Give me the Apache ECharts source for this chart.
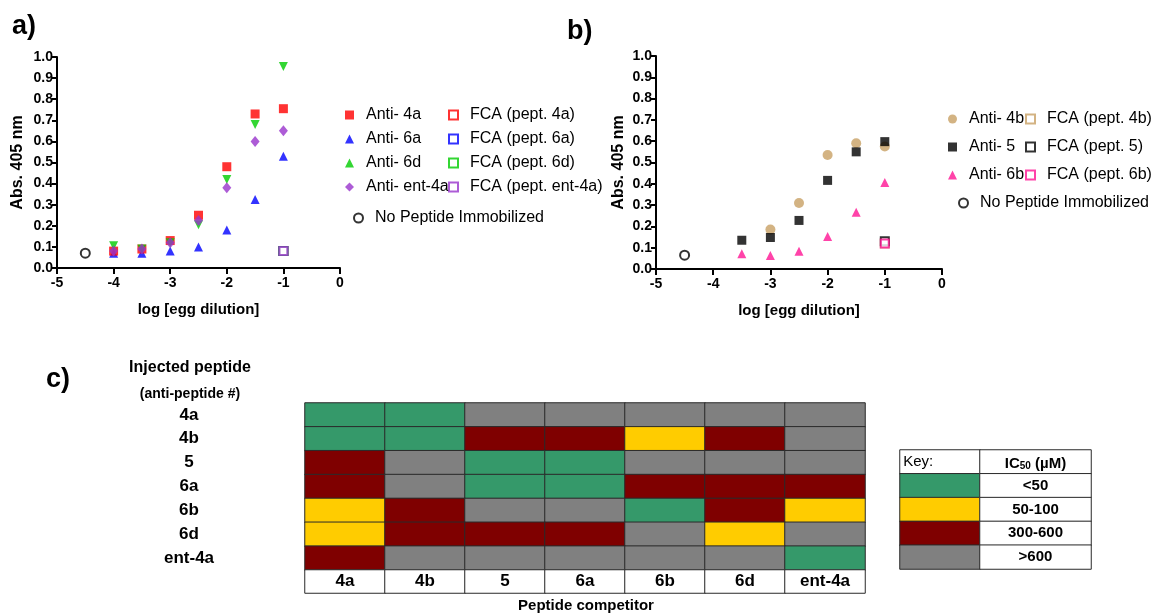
<!DOCTYPE html>
<html><head><meta charset="utf-8">
<script src="https://cdn.jsdelivr.net/npm/echarts@6/dist/echarts.min.js"></script>
<style>html,body{margin:0;padding:0;background:#fff}#c{width:1154px;height:613px}</style>
</head><body><div id="c"></div>
<script>
// ---------- Panel a data ----------
const dilA = [-4, -3.5, -3, -2.5, -2, -1.5, -1];
const anti4a = [0.08, 0.09, 0.13, 0.25, 0.48, 0.73, 0.755];
const anti6a = [0.07, 0.07, 0.08, 0.10, 0.18, 0.325, 0.53];
const anti6d = [0.105, 0.09, 0.12, 0.205, 0.42, 0.68, 0.955];
const antiEnt4a = [0.08, 0.09, 0.12, 0.225, 0.38, 0.60, 0.65];
const fcaX = -1;
const fcaA = [0.08, 0.08, 0.08, 0.08];      // 4a, 6a, 6d, ent-4a
const noPeptideA = [-4.5, 0.07];

// ---------- Panel b data ----------
const dil4b = [-3, -2.5, -2, -1.5, -1];
const anti4b = [0.185, 0.31, 0.535, 0.59, 0.575];
const dilB = [-3.5, -3, -2.5, -2, -1.5, -1];
const anti5 = [0.135, 0.148, 0.228, 0.416, 0.55, 0.598];
const anti6b = [0.072, 0.063, 0.083, 0.153, 0.267, 0.406];
const fcaB = [0.12, 0.13, 0.12];            // 4b, 5, 6b
const noPeptideB = [-4.5, 0.065];

// ---------- Panel c data ----------
const injected = ['4a', '4b', '5', '6a', '6b', '6d', 'ent-4a'];
const competitors = ['4a', '4b', '5', '6a', '6b', '6d', 'ent-4a'];
const ic50Classes = ['<50', '50-100', '300-600', '>600'];
// class index per [injected row][competitor column]
const ic50Matrix = [
  [0, 0, 3, 3, 3, 3, 3],
  [0, 0, 2, 2, 1, 2, 3],
  [2, 3, 0, 0, 3, 3, 3],
  [2, 3, 0, 0, 2, 2, 2],
  [1, 2, 3, 3, 0, 2, 1],
  [1, 2, 2, 2, 3, 1, 3],
  [2, 3, 3, 3, 3, 3, 0]
];
const classColors = ['#35996a', '#ffcc00', '#7f0000', '#808080'];

const FONT = 'Liberation Sans, Arial, sans-serif';
const chart = echarts.init(document.getElementById('c'));

function pts(xs, ys) { return xs.map((x, i) => [x, ys[i]]); }

function valueAxesX(gi) {
  return {
    gridIndex: gi, type: 'value', min: -5, max: 0, interval: 1,
    axisLine: { show: true, onZero: false, lineStyle: { color: '#000', width: 2 } },
    axisTick: { show: true, length: 6, lineStyle: { color: '#000', width: 2 } },
    axisLabel: { fontFamily: FONT, fontWeight: 'bold', fontSize: 14, color: '#000', margin: 8 },
    splitLine: { show: false },
    name: 'log [egg dilution]', nameLocation: 'middle', nameGap: 34,
    nameTextStyle: { fontFamily: FONT, fontWeight: 'bold', fontSize: 15, color: '#000' }
  };
}
function valueAxesY(gi, gap) {
  return {
    gridIndex: gi, type: 'value', min: 0, max: 1, interval: 0.1,
    axisLine: { show: true, onZero: false, lineStyle: { color: '#000', width: 2 } },
    axisTick: { show: true, length: 5, lineStyle: { color: '#000', width: 2 } },
    axisLabel: { fontFamily: FONT, fontWeight: 'bold', fontSize: 14, color: '#000', margin: 4,
      formatter: v => v.toFixed(1) },
    splitLine: { show: false },
    name: 'Abs. 405 nm', nameLocation: 'middle', nameGap: gap, nameRotate: 90,
    nameTextStyle: { fontFamily: FONT, fontWeight: 'bold', fontSize: 16, color: '#000' }
  };
}

function sc(name, gi, data, symbol, color, opts = {}) {
  return Object.assign({
    type: 'scatter', name, xAxisIndex: gi, yAxisIndex: gi, data, symbol,
    symbolSize: 9, itemStyle: { color }, emphasis: { disabled: true }, z: 3
  }, opts);
}
function openSq(name, gi, y, color) {
  return sc(name, gi, [[fcaX, y]], 'rect', '#fff', {
    symbolSize: 8, itemStyle: { color: '#fff', borderColor: color, borderWidth: 2 }
  });
}
function openCircle(name, gi, p) {
  return sc(name, gi, [p], 'circle', '#fff', {
    symbolSize: 9, itemStyle: { color: '#fff', borderColor: '#000', borderWidth: 2 }
  });
}

const colA = { a4: '#ff0000', a6: '#0000ff', d6: '#00cc00', ent: '#9933cc' };
const colB = { b4: '#c8a064', f5: '#000000', b6: '#ff1493' };

// heatmap data
const heatData = [];
ic50Matrix.forEach((row, r) => row.forEach((cls, c) => {
  heatData.push({ value: [c, r, cls], itemStyle: { color: classColors[cls] } });
}));
const labelRowData = competitors.map((c, i) => ({ value: [i, 0, i], itemStyle: { color: '#fff' } }));
const keyRows = ['hdr'].concat(ic50Classes);
const keySwatchData = keyRows.map((k, i) => ({
  value: [0, i, i], itemStyle: { color: i === 0 ? '#fff' : classColors[i - 1] }
}));
const keyTextData = keyRows.map((k, i) => ({ value: [0, i, i], itemStyle: { color: '#fff' } }));

const cellBorder = { borderColor: '#2a2a2a', borderWidth: 1 };
const legendText = { fontFamily: FONT, fontSize: 16, color: '#000', lineHeight: 16, padding: [0, 0, 0, 7] };

function hiddenCat(gi, data, inverse) {
  return {
    gridIndex: gi, type: 'category', data, inverse: !!inverse,
    axisLine: { show: false }, axisTick: { show: false }, axisLabel: { show: false },
    splitLine: { show: false }, splitArea: { show: false }
  };
}

const option = {
  animation: false,
  backgroundColor: '#fff',
  grid: [
    { left: 57, top: 57, width: 283, height: 211 },       // a
    { left: 656, top: 56, width: 286, height: 213 },      // b
    { left: 305, top: 403, width: 560, height: 167 },     // c heatmap
    { left: 305, top: 570, width: 560, height: 23 },      // c label row
    { left: 900, top: 450, width: 80, height: 119 },      // key swatches
    { left: 980, top: 450, width: 111, height: 119 }      // key text
  ],
  xAxis: [
    valueAxesX(0), valueAxesX(1),
    hiddenCat(2, competitors), hiddenCat(3, competitors),
    hiddenCat(4, ['sw']), hiddenCat(5, ['tx'])
  ],
  yAxis: [
    valueAxesY(0, 31), valueAxesY(1, 29),
    Object.assign(hiddenCat(2, injected, true), {
      axisLabel: { show: true, align: 'center', margin: 116, fontFamily: FONT, fontWeight: 'bold', fontSize: 17, color: '#000' }
    }),
    hiddenCat(3, ['lbl']),
    hiddenCat(4, keyRows, true), hiddenCat(5, keyRows, true)
  ],
  legend: [
    { data: ['Anti- 4a', 'Anti- 6a', 'Anti- 6d', 'Anti- ent-4a'], left: 340, top: 102, orient: 'vertical',
      itemWidth: 9, itemHeight: 9, itemGap: 8, textStyle: legendText, selectedMode: false },
    { data: ['FCA (pept. 4a)', 'FCA (pept. 6a)', 'FCA (pept. 6d)', 'FCA (pept. ent-4a)'], left: 443, top: 102, orient: 'vertical',
      itemWidth: 9, itemHeight: 9, itemGap: 8, textStyle: legendText, selectedMode: false },
    { data: ['No Peptide Immobilized#a'], left: 348, top: 205, itemWidth: 9, itemHeight: 9,
      textStyle: legendText, selectedMode: false, formatter: n => n.replace('#a', '') },
    { data: ['Anti- 4b', 'Anti- 5', 'Anti- 6b'], left: 943, top: 106, orient: 'vertical',
      itemWidth: 9, itemHeight: 9, itemGap: 12, textStyle: legendText, selectedMode: false },
    { data: ['FCA (pept. 4b)', 'FCA (pept. 5)', 'FCA (pept. 6b)'], left: 1020, top: 106, orient: 'vertical',
      itemWidth: 9, itemHeight: 9, itemGap: 12, textStyle: legendText, selectedMode: false },
    { data: ['No Peptide Immobilized#b'], left: 953, top: 190, itemWidth: 9, itemHeight: 9,
      textStyle: legendText, selectedMode: false, formatter: n => n.replace('#b', '') }
  ],
  series: [
    // panel a
    openCircle('No Peptide Immobilized#a', 0, noPeptideA),
    sc('Anti- 6a', 0, pts(dilA, anti6a), 'triangle', colA.a6),
    sc('Anti- 4a', 0, pts(dilA, anti4a), 'rect', colA.a4),
    sc('Anti- 6d', 0, pts(dilA, anti6d), 'triangle', colA.d6, { symbolRotate: 180 }),
    sc('Anti- ent-4a', 0, pts(dilA, antiEnt4a), 'diamond', colA.ent, { symbolSize: [9, 11] }),
    openSq('FCA (pept. 4a)', 0, fcaA[0], colA.a4),
    openSq('FCA (pept. 6a)', 0, fcaA[1], colA.a6),
    openSq('FCA (pept. 6d)', 0, fcaA[2], colA.d6),
    openSq('FCA (pept. ent-4a)', 0, fcaA[3], colA.ent),
    // panel b
    openCircle('No Peptide Immobilized#b', 1, noPeptideB),
    sc('Anti- 4b', 1, pts(dil4b, anti4b), 'circle', colB.b4, { symbolSize: 10 }),
    sc('Anti- 5', 1, pts(dilB, anti5), 'rect', colB.f5),
    sc('Anti- 6b', 1, pts(dilB, anti6b), 'triangle', colB.b6),
    openSq('FCA (pept. 4b)', 1, fcaB[0], colB.b4),
    openSq('FCA (pept. 5)', 1, fcaB[1], colB.f5),
    openSq('FCA (pept. 6b)', 1, fcaB[2], colB.b6),
    // panel c heatmap
    { type: 'heatmap', xAxisIndex: 2, yAxisIndex: 2, data: heatData, itemStyle: cellBorder,
      emphasis: { disabled: true }, label: { show: false } },
    { type: 'heatmap', xAxisIndex: 3, yAxisIndex: 3, data: labelRowData, itemStyle: cellBorder,
      emphasis: { disabled: true },
      label: { show: true, formatter: p => competitors[p.value[0]], fontFamily: FONT, fontWeight: 'bold', fontSize: 17, color: '#000' } },
    { type: 'heatmap', xAxisIndex: 4, yAxisIndex: 4, data: keySwatchData, itemStyle: cellBorder,
      emphasis: { disabled: true },
      label: { show: true, position: 'insideLeft', distance: 4, formatter: p => p.value[1] === 0 ? 'Key:' : '',
        fontFamily: FONT, fontSize: 15, color: '#000' } },
    { type: 'heatmap', xAxisIndex: 5, yAxisIndex: 5, data: keyTextData, itemStyle: cellBorder,
      emphasis: { disabled: true },
      label: { show: true, fontFamily: FONT, fontWeight: 'bold', fontSize: 15, color: '#000',
        formatter: p => p.value[1] === 0 ? '{n|IC}{s|50}{n| (µM)}' : ic50Classes[p.value[1] - 1],
        rich: { n: { fontFamily: FONT, fontSize: 15, color: '#000', verticalAlign: 'bottom', lineHeight: 18 },
                s: { fontFamily: FONT, fontSize: 10, color: '#000', verticalAlign: 'bottom', lineHeight: 14 } } } }
  ],
  graphic: [
    { type: 'text', left: 12, top: 13, style: { text: 'a)', font: 'bold 27px ' + FONT, fill: '#000' } },
    { type: 'text', left: 567, top: 18, style: { text: 'b)', font: 'bold 27px ' + FONT, fill: '#000' } },
    { type: 'text', left: 46, top: 366, style: { text: 'c)', font: 'bold 27px ' + FONT, fill: '#000' } },
    { type: 'text', x: 190, y: 368, style: { text: 'Injected peptide', font: 'bold 16px ' + FONT, fill: '#000', align: 'center', verticalAlign: 'middle' } },
    { type: 'text', x: 190, y: 394, style: { text: '(anti-peptide #)', font: 'bold 14px ' + FONT, fill: '#000', align: 'center', verticalAlign: 'middle' } },
    { type: 'text', x: 586, y: 606, style: { text: 'Peptide competitor', font: 'bold 15px ' + FONT, fill: '#000', align: 'center', verticalAlign: 'middle' } }
  ]
};
chart.setOption(option);
</script>
</body></html>
